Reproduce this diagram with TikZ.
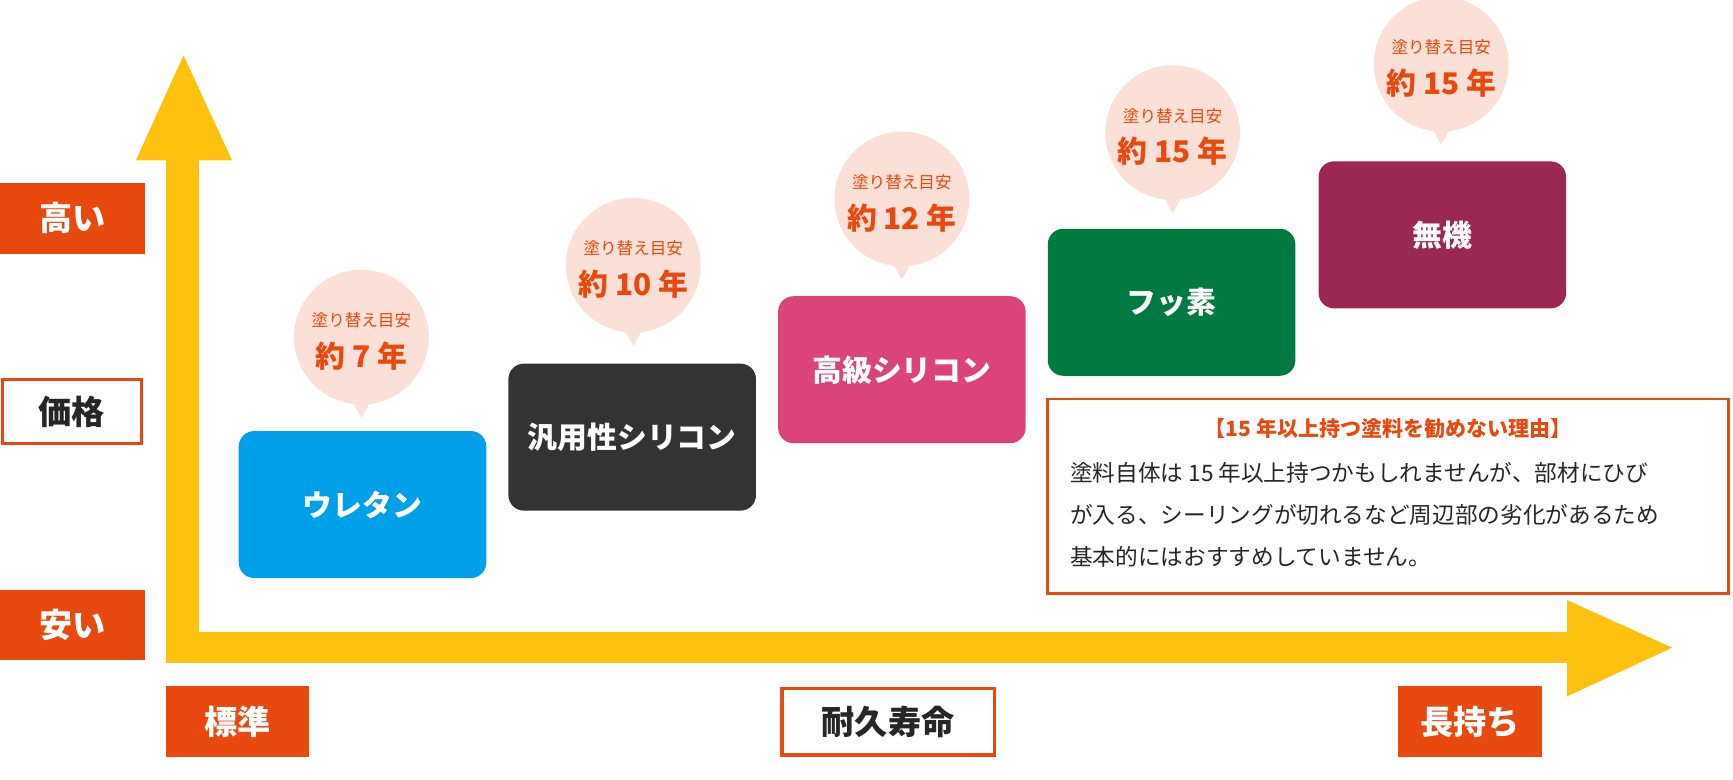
\documentclass[tikz,border=0pt]{standalone}
\usepackage{fontspec}
\setmainfont{Noto Sans CJK JP}
\newfontfamily\cjk{Noto Sans CJK JP}
\definecolor{gold}{HTML}{FDC210}
\definecolor{org}{HTML}{E8490F}
\definecolor{pinkb}{HTML}{FBE0D8}
\begin{document}
\begin{tikzpicture}[x=1pt,y=-1pt,
  lab/.style={minimum width=130pt,minimum height=64pt,inner sep=0pt,font=\cjk\bfseries\fontsize{30}{34}\selectfont},
  fl/.style={lab,fill=org,text=white},
  ol/.style={lab,draw=org,line width=3pt,fill=white,text=black!85},
  pl/.style={rounded corners=14pt,minimum width=224pt,minimum height=133pt,inner sep=0pt,text=white,font=\cjk\bfseries\fontsize{27}{32}\selectfont},
  bub/.style={circle,fill=pinkb,minimum size=122pt,inner sep=0pt},
  sm/.style={text=org,font=\cjk\fontsize{15}{18}\selectfont},
  bg/.style={text=org,font=\cjk\bfseries\fontsize{27}{32}\selectfont}]
\useasboundingbox (0,0) rectangle (1568,705);
% axes
\fill[gold] (150,145) rectangle (180,600);
\fill[gold] (123,145) -- (166,50) -- (210,145) -- cycle;
\fill[gold] (150,572) rectangle (1420,600);
\fill[gold] (1418,543) -- (1513,586) -- (1418,630) -- cycle;
% axis labels
\node[fl,minimum width=131pt] (hi) at (65.5,197.5) {高い};
\node[ol,minimum width=126pt,minimum height=58pt] (pr) at (65,372.5) {価格};
\node[fl,minimum width=131pt] (lo) at (65.5,565.5) {安い};
\node[fl] (std) at (215,653) {標準};
\node[ol,minimum width=192pt,minimum height=60pt] (dur) at (803.5,653) {耐久寿命};
\node[fl] (lng) at (1330,653) {長持ち};
% boxes
\node[pl,fill={rgb,255:red,0;green,160;blue,233}] (u) at (328,456.5) {ウレタン};
\node[pl,fill={rgb,255:red,51;green,51;blue,51}] (s) at (572,395.5) {汎用性シリコン};
\node[pl,fill={rgb,255:red,219;green,68;blue,121}] (k) at (816,334.5) {高級シリコン};
\node[pl,fill={rgb,255:red,0;green,122;blue,64}] (f) at (1060,273.5) {フッ素};
\node[pl,fill={rgb,255:red,154;green,40;blue,82}] (m) at (1305,212.5) {無機};
% bubbles
\foreach \n/\x/\y/\t in {b1/327/305/7,b2/573/240/10,b3/816/180/12,b4/1061/120/15,b5/1304/58/15}{
  \fill[pinkb] (\x-10,\y+55) -- (\x,\y+73) -- (\x+10,\y+55) -- cycle;
  \node[bub] (\n) at (\x,\y) {};
  \node[sm] (\n s) at (\x,\y-15) {塗り替え目安};
  \node[bg] (\n b) at (\x,\y+17) {約 \t\ 年};
}
% note
\node[draw=org,line width=2.5pt,fill=white,minimum width=616pt,minimum height=176pt,inner sep=0pt] (note) at (1256,449) {};
\node[text=org,font=\cjk\bfseries\fontsize{19}{22}\selectfont] (nt) at (1256,388) {【15 年以上持つ塗料を勧めない理由】};
\node[anchor=north west,align=left,text=black!85,font=\cjk\fontsize{20.5}{38}\selectfont,inner sep=0pt] (nb) at (968,418)
 {塗料自体は 15 年以上持つかもしれませんが、部材にひび\\が入る、シーリングが切れるなど周辺部の劣化があるため\\基本的にはおすすめしていません。};
\end{tikzpicture}
\end{document}
